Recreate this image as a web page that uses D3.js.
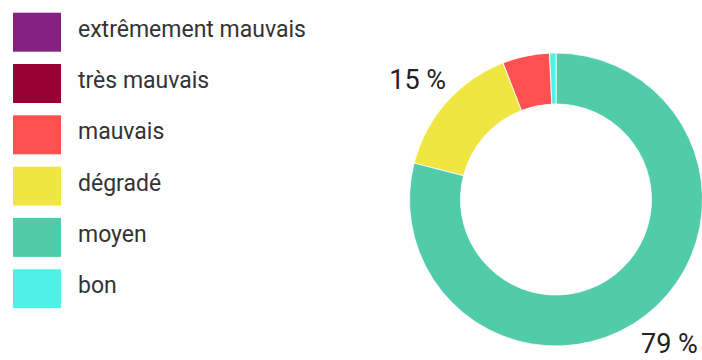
<!DOCTYPE html>
<html>
<head>
<meta charset="utf-8">
<script src="https://cdn.jsdelivr.net/npm/d3@7"></script>
<style>
  html, body { margin: 0; padding: 0; background: #fff; }
  svg { display: block; font-family: Roboto, "Noto Sans", sans-serif; }
</style>
</head>
<body>
<svg id="chart" width="702" height="360"></svg>
<script>
const categories = ["extrêmement mauvais", "très mauvais", "mauvais", "dégradé", "moyen", "bon"];
const values = [0, 0, 5.2, 15.1, 79.0, 0.7];
const colors = ["#872181", "#960032", "#FF5050", "#F0E641", "#50CCAA", "#50F0E6"];

const data = categories.map((c, i) => ({ name: c, value: values[i], color: colors[i] }));

const svg = d3.select("#chart");

// Legend
const legendY = d3.scaleBand().domain(categories).range([12.7, 308.2]).paddingInner(0.24).paddingOuter(0);
const legend = svg.append("g");
const items = legend.selectAll("g").data(data).join("g")
  .attr("transform", d => `translate(13,${legendY(d.name)})`);
items.append("rect")
  .attr("width", 48)
  .attr("height", legendY.bandwidth())
  .attr("fill", d => d.color);
items.append("text")
  .attr("x", 65)
  .attr("y", 24)
  .attr("fill", "#333")
  .style("font-size", "23px")
  .text(d => d.name);

// Donut
const cx = 556, cy = 199.5, rOuter = 146.5, rInner = 95.5;
const total = d3.sum(values);
const pie = d3.pie().value(d => d.value);
const arcs = pie(data);
const arc = d3.arc().innerRadius(rInner).outerRadius(rOuter);
const labelArc = d3.arc().innerRadius(185).outerRadius(185);

const g = svg.append("g").attr("transform", `translate(${cx},${cy})`);
g.selectAll("path").data(arcs.filter(d => d.value > 0)).join("path")
  .attr("d", arc)
  .attr("fill", d => d.data.color)
  .attr("stroke", "#fff")
  .attr("stroke-width", 0.8);

g.selectAll("text.lbl").data(arcs.filter(d => d.value / total >= 0.1)).join("text")
  .attr("class", "lbl")
  .attr("transform", d => {
    const [x, y] = labelArc.centroid(d);
    return `translate(${x},${Math.min(y + 3, 144)})`;
  })
  .attr("text-anchor", "middle")
  .attr("dy", "0.36em")
  .attr("fill", "#222")
  .style("font-size", "27px")
  .text(d => Math.round(d.value / total * 100) + " %");
</script>
</body>
</html>
